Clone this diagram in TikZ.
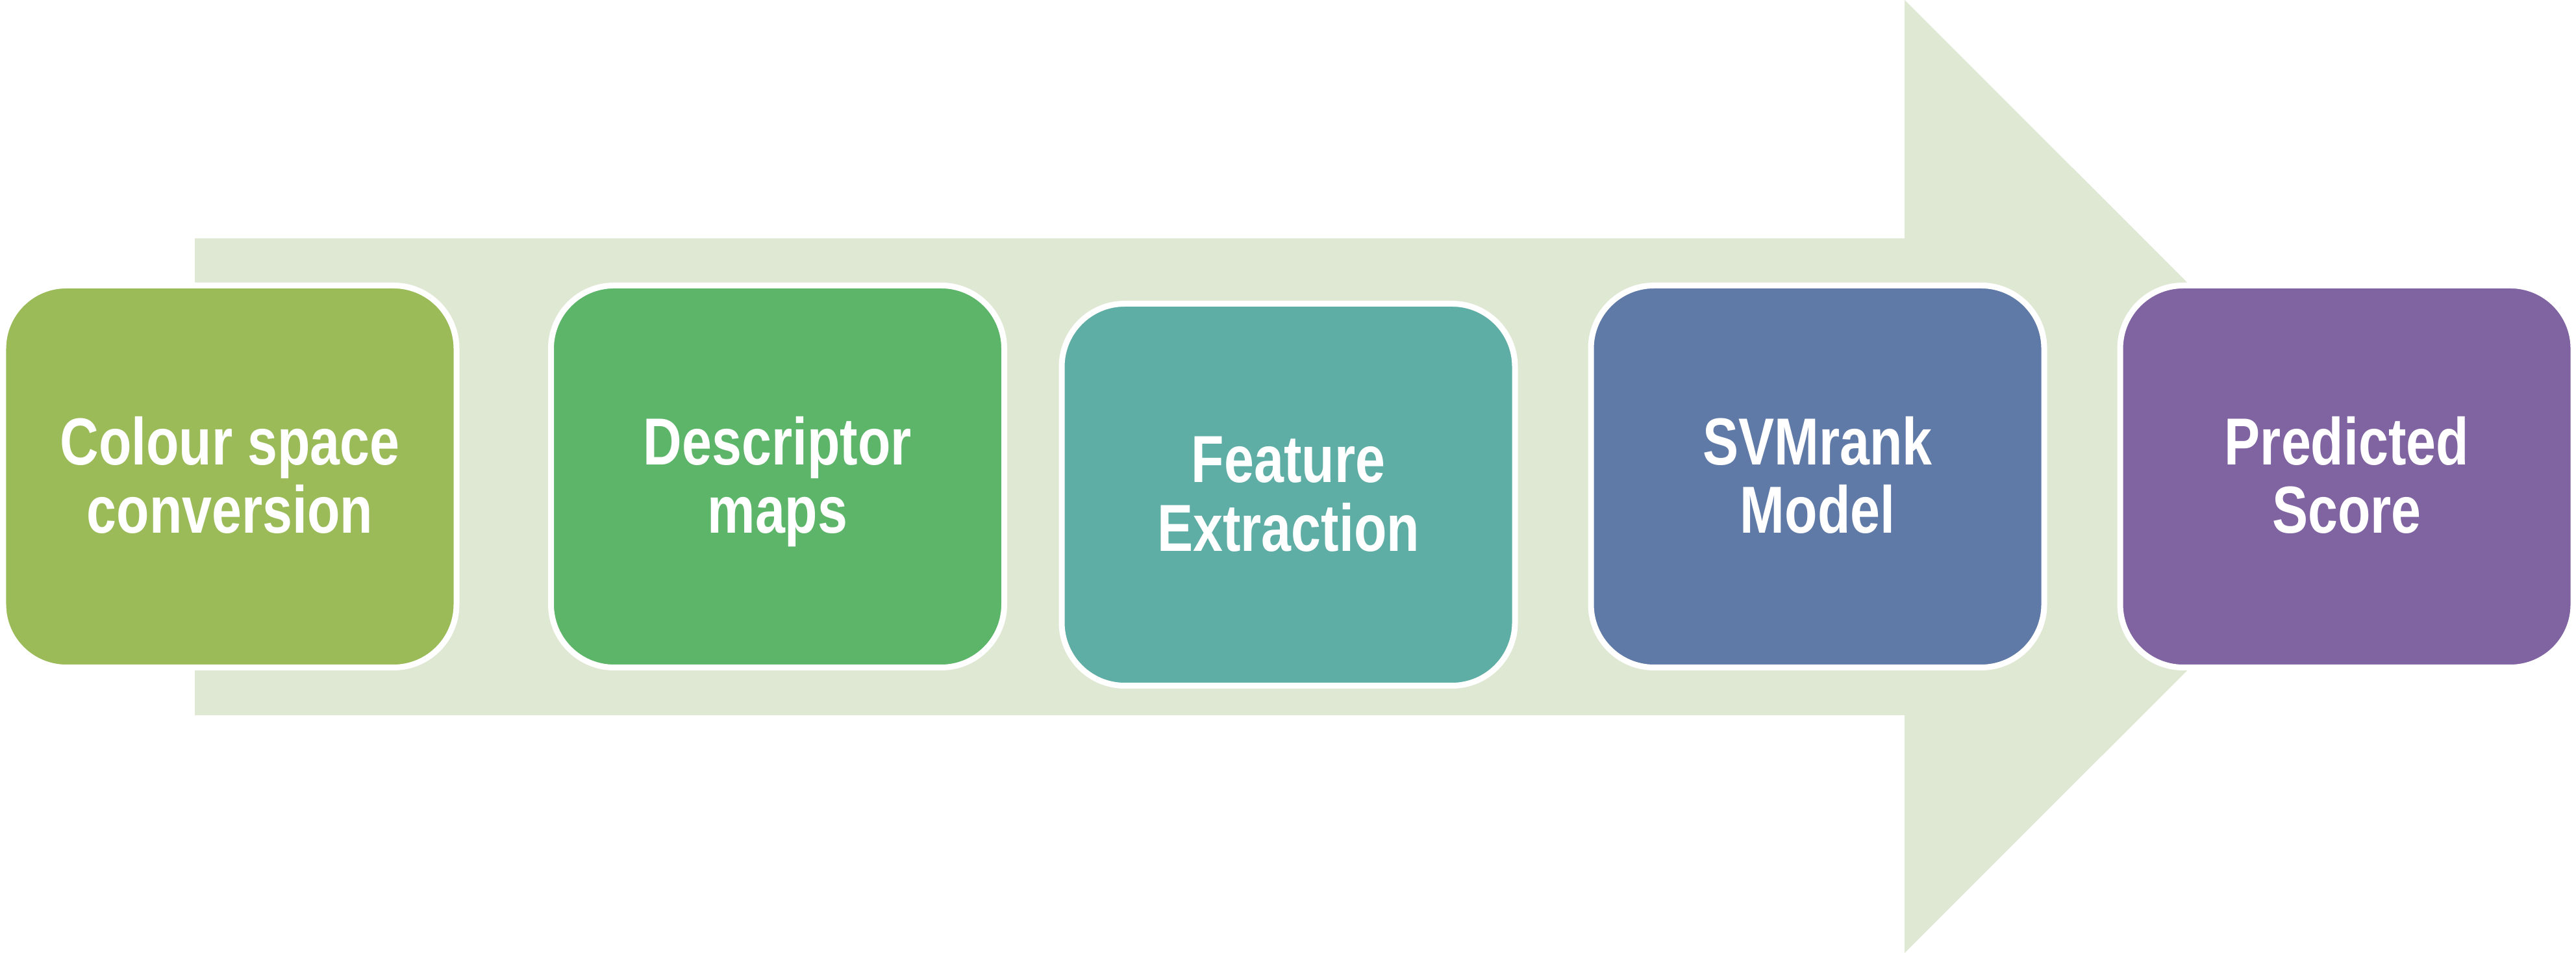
\documentclass[tikz,border=0pt]{standalone}
\usepackage{fontspec}
\usepackage{graphicx}
\setmainfont{Liberation Sans}
\definecolor{arrowbg}{HTML}{DFE8D3}
\definecolor{stageone}{HTML}{9BBB59}
\definecolor{stagetwo}{HTML}{5DB56A}
\definecolor{stagethree}{HTML}{5FAEA6}
\definecolor{stagefour}{HTML}{607AA8}
\definecolor{stagefive}{HTML}{8064A2}
% tall narrow box label
\newcommand{\stagetext}[1]{\raisebox{-0.13cm}[\height][\depth]{\scalebox{1}[1.24]{\begin{tabular}{@{}c@{}}#1\end{tabular}}}}

\begin{document}
\begin{tikzpicture}[node distance=8.15cm]
%
% Pipeline: colour space -> descriptor maps -> features -> SVMrank -> score
%
% Styles
\tikzstyle{stage} = [rectangle, rounded corners=0.97cm, minimum width=6.98cm, minimum height=5.88cm, draw=white, line width=0.09cm, text=white, align=center, inner sep=0pt, font=\fontsize{23.5}{23.9}\selectfont\bfseries]
\useasboundingbox (0,0) rectangle (39.67,14.67);
% Background arrow
\fill [arrowbg] (3,3.66) -- (29.33,3.66) -- (29.33,0) -- (36.67,7.335) -- (29.33,14.67) -- (29.33,11) -- (3,11) -- cycle;
% Nodes
\node (colour) [stage, fill=stageone] at (3.54,7.335) {\stagetext{Colour space\\conversion}};
\node (descriptor) [stage, fill=stagetwo, right of=colour, xshift=0.285cm] {\stagetext{Descriptor\\maps}};
\node (feature) [stage, fill=stagethree, right of=descriptor, xshift=-0.285cm, yshift=-0.28cm] {\stagetext{Feature\\Extraction}};
\node (svm) [stage, fill=stagefour, right of=feature, yshift=0.28cm] {\stagetext{SVMrank\\Model}};
\node (score) [stage, fill=stagefive, right of=svm] {\stagetext{Predicted\\Score}};
\end{tikzpicture}
\end{document}
